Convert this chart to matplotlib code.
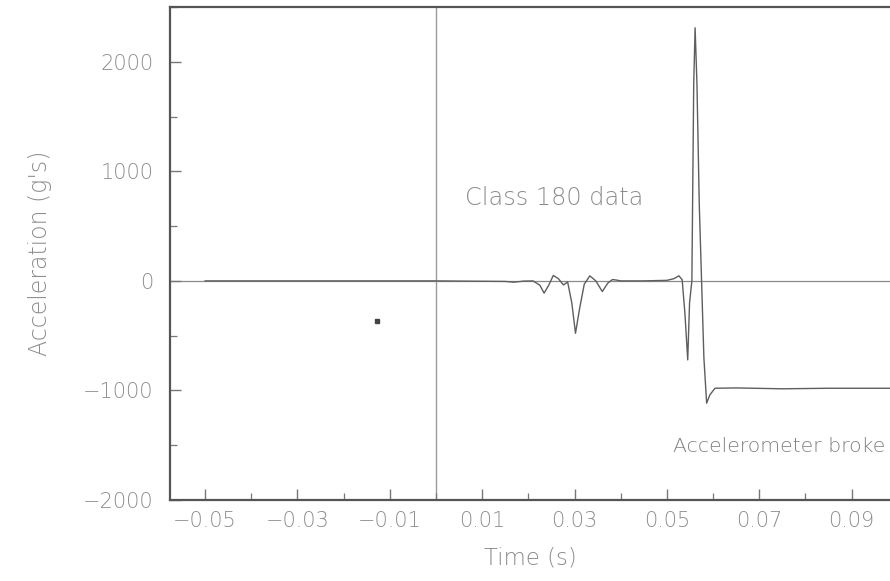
import matplotlib
matplotlib.use("Agg")
import matplotlib.pyplot as plt
from matplotlib.ticker import MultipleLocator, FixedLocator

# Acceleration trace (time in s, acceleration in g's)
time_s = [-0.05, 0.0, 0.015, 0.0168, 0.019, 0.021, 0.0225, 0.0234, 0.0244,
          0.0254, 0.0265, 0.0276, 0.0285, 0.0294, 0.0302, 0.0311, 0.0321,
          0.0333, 0.0346, 0.0360, 0.0372, 0.0382, 0.0390, 0.0400, 0.0450,
          0.0500, 0.0515, 0.0526, 0.0533, 0.0539, 0.0545, 0.0549, 0.0554,
          0.0558, 0.0561, 0.0565, 0.0570, 0.0575, 0.0580, 0.0586, 0.0593,
          0.0604, 0.0650, 0.0750, 0.0850, 0.0983]
accel_g = [0, 0, -5, -12, -2, 0, -40, -112, -40,
           50, 20, -37, -10, -200, -478, -250, -30,
           46, 0, -97, -20, 12, 8, 0, 0,
           5, 20, 46, 10, -300, -721, -200, 0,
           1800, 2310, 1800, 700, 0, -700, -1116, -1040,
           -980, -977, -985, -980, -980]

# isolated stray sample
stray_t = [-0.0128]
stray_g = [-366]

x_major = [-0.05, -0.03, -0.01, 0.01, 0.03, 0.05, 0.07, 0.09]
x_minor = [-0.04, -0.02, 0.0, 0.02, 0.04, 0.06, 0.08]
y_major = [-2000, -1000, 0, 1000, 2000]

plt.rcParams["font.family"] = ["DejaVu Sans"]
plt.rcParams["font.weight"] = 200
plt.rcParams["axes.labelweight"] = 200

label_col = "#8c8c8c"
line_col = "#5e5e5e"

fig = plt.figure(figsize=(8.9, 5.81), dpi=100)
ax = fig.add_axes([170 / 890, 81 / 581, 720 / 890, 493 / 581])

ax.axhline(0, color="#8a8a8a", lw=0.9, zorder=1)
ax.axvline(0, color="#9a9a9a", lw=1.0, zorder=1)
ax.plot(time_s, accel_g, color=line_col, lw=1.0, zorder=3)
ax.plot(stray_t, stray_g, "s", ms=2.2, color="#444444", zorder=3)

ax.set_xlim(-0.0576, 0.0983)
ax.set_ylim(-2000, 2500)

ax.xaxis.set_major_locator(FixedLocator(x_major))
ax.xaxis.set_minor_locator(FixedLocator(x_minor))
ax.yaxis.set_major_locator(FixedLocator(y_major))
ax.yaxis.set_minor_locator(MultipleLocator(500))
ax.set_xticklabels([f"{v:.2f}".replace("-", "\u2212") for v in x_major])
ax.set_yticklabels([f"{v}".replace("-", "\u2212") for v in y_major])

ax.tick_params(which="major", direction="in", length=8, width=1.0,
               colors="#777777", labelcolor=label_col, labelsize=15, pad=8)
ax.tick_params(which="minor", direction="in", length=5, width=0.9,
               colors="#777777")
ax.tick_params(axis="y", which="major", pad=12)

for side in ("left", "bottom", "top"):
    ax.spines[side].set_color("#555555")
    ax.spines[side].set_linewidth(1.6)
ax.spines["right"].set_visible(False)

ax.set_xlabel("Time (s)", fontsize=16.5, color=label_col, labelpad=11,
              fontweight=200)
ax.set_ylabel("Acceleration (g's)", fontsize=17, color=label_col,
              labelpad=22, fontweight=200)

ax.text(0.0063, 760, "Class 180 data", fontsize=17.3, color=label_col,
        ha="left", va="center", fontweight=200)
ax.text(0.0513, -1515, "Accelerometer broke", fontsize=14.7, color="#808080",
        ha="left", va="center", fontweight=200)

fig.savefig("out.png", dpi=100)
